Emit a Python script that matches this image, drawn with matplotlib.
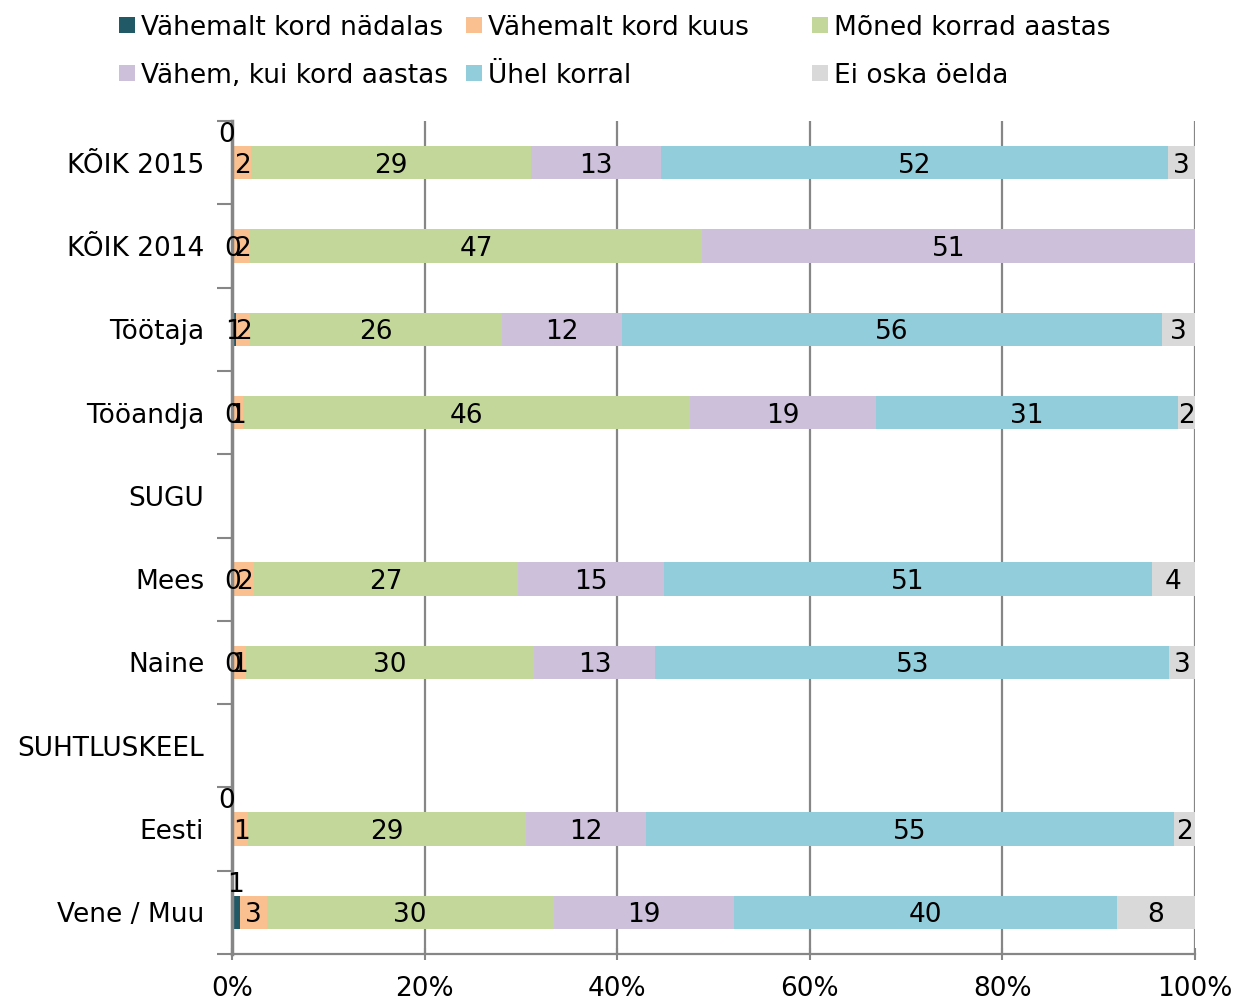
import numpy as np
import matplotlib
matplotlib.use("Agg")
import matplotlib.pyplot as plt
from matplotlib.patches import Rectangle

plt.rcParams['font.family'] = ['DejaVu Sans']

categories = ['KÕIK 2015', 'KÕIK 2014', 'Töötaja', 'Tööandja', 'SUGU',
              'Mees', 'Naine', 'SUHTLUSKEEL', 'Eesti', 'Vene / Muu']
series_names = ['Vähemalt kord nädalas', 'Vähemalt kord kuus', 'Mõned korrad aastas',
                'Vähem, kui kord aastas', 'Ühel korral', 'Ei oska öelda']
colors = ['#215967', '#FAC090', '#C4D79B', '#CCC0DA', '#92CDDC', '#D9D9D9']

# segment widths (share in %), None rows are group headers
nadalas = [0.2, 0.2, 0.4, 0.1, None, 0.2, 0.2, None, 0.2, 0.8]
kuus    = [1.8, 1.7, 1.5, 1.0, None, 2.1, 1.25, None, 1.5, 2.8]
moned   = [29.0, 46.9, 26.1, 46.5, None, 27.4, 29.9, None, 28.8, 29.8]
vahem   = [13.5, 51.2, 12.5, 19.3, None, 15.2, 12.6, None, 12.5, 18.7]
uhel    = [52.7, 0.0, 56.1, 31.3, None, 50.6, 53.4, None, 54.8, 39.8]
eioska  = [2.8, 0.0, 3.4, 1.8, None, 4.5, 2.6, None, 2.2, 8.1]

# printed data labels
lab_nadalas = ['0', '0', '1', '0', '', '0', '0', '', '0', '1']
lab_kuus    = ['2', '2', '2', '1', '', '2', '1', '', '1', '3']
lab_moned   = ['29', '47', '26', '46', '', '27', '30', '', '29', '30']
lab_vahem   = ['13', '51', '12', '19', '', '15', '13', '', '12', '19']
lab_uhel    = ['52', '', '56', '31', '', '51', '53', '', '55', '40']
lab_eioska  = ['3', '', '3', '2', '', '4', '3', '', '2', '8']

xticks = [0, 20, 40, 60, 80, 100]
xticklabels = ['0%', '20%', '40%', '60%', '80%', '100%']

series = [nadalas, kuus, moned, vahem, uhel, eioska]
labels = [lab_nadalas, lab_kuus, lab_moned, lab_vahem, lab_uhel, lab_eioska]
above_rows = [0, 8, 9]  # first label sits above the bar in these rows

fig = plt.figure(figsize=(12.5, 10.01), dpi=100)
ax = fig.add_axes([232/1250, 47/1001, 963/1250, 833/1001])

fs = 19
y = np.arange(len(categories))
left = np.zeros(len(categories))
for s, (vals, labs) in enumerate(zip(series, labels)):
    for i, v in enumerate(vals):
        if v is None:
            continue
        if v > 0:
            ax.barh(y[i], v, left=left[i], height=0.4, color=colors[s], edgecolor='none', zorder=2)
        if labs[i]:
            cx = left[i] + v / 2
            cy = y[i]
            if s == 0 and i in above_rows:
                cy = y[i] - 0.37
                cx = cx - 0.7 if labs[i] == '0' else cx
            ax.text(cx, cy, labs[i], ha='center', va='center_baseline', fontsize=fs, color='black', zorder=3)
        left[i] += v

ax.set_xlim(0, 100)
ax.set_ylim(len(categories) - 0.5, -0.5)
ax.set_xticks(xticks)
ax.set_xticklabels(xticklabels, fontsize=fs)
ax.set_yticks(y)
ax.set_yticklabels(categories, fontsize=fs)
ax.set_yticks(np.arange(len(categories) + 1) - 0.5, minor=True)
ax.tick_params(axis='y', which='major', length=0, pad=20)
ax.tick_params(axis='y', which='minor', length=11, width=1.5, color='#868686')
ax.tick_params(axis='x', which='major', length=8, width=1.5, color='#868686', pad=12, direction='inout')
ax.xaxis.grid(True, color='#868686', linewidth=1.6)
ax.set_axisbelow(True)
for sp in ['top', 'right']:
    ax.spines[sp].set_visible(False)
ax.spines['left'].set_color('#868686')
ax.spines['left'].set_linewidth(2.5)
ax.spines['bottom'].set_color('#868686')
ax.spines['bottom'].set_linewidth(1.6)

# legend drawn as two rows of three fixed-width columns
col_x = [119, 466, 812]
row_y = [25, 73]
for k, name in enumerate(series_names):
    cx = col_x[k % 3]
    cy = row_y[k // 3]
    fig.patches.append(Rectangle((cx / 1250, (1001 - cy - 8) / 1001), 16 / 1250, 16 / 1001,
                                 transform=fig.transFigure, facecolor=colors[k], edgecolor='none'))
    fig.text((cx + 22) / 1250, (1001 - cy) / 1001, name, fontsize=fs, va='center_baseline', ha='left')

fig.savefig('out.png', dpi=100)
